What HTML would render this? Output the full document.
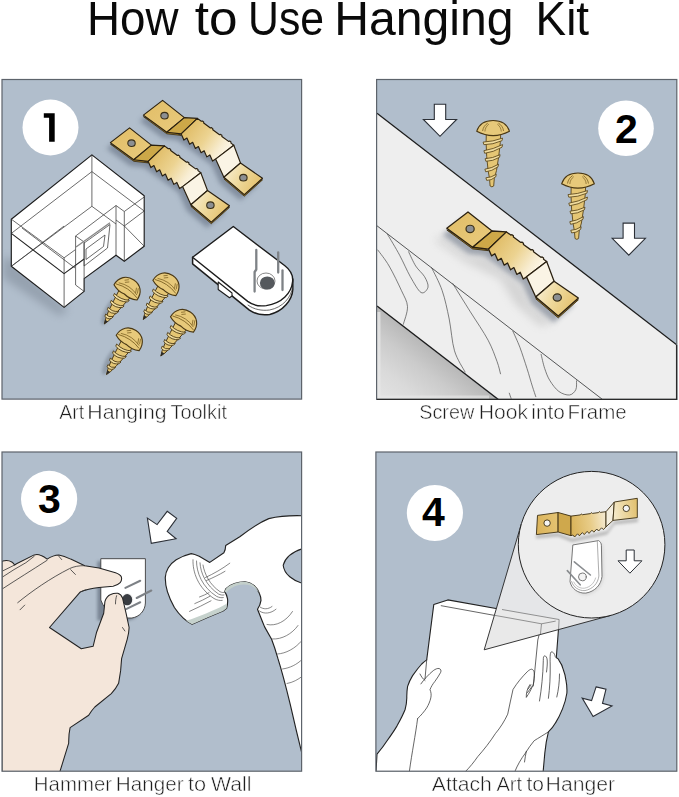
<!DOCTYPE html>
<html><head><meta charset="utf-8"><title>How to Use Hanging Kit</title>
<style>
html,body{margin:0;padding:0;background:#fff;}
body{width:679px;height:797px;overflow:hidden;font-family:"Liberation Sans",sans-serif;}
svg{display:block;}
text{font-family:"Liberation Sans",sans-serif;}
</style></head><body>
<svg width="679" height="797" viewBox="0 0 679 797">
<defs>
  <filter id="blur3" x="-20%" y="-20%" width="140%" height="140%"><feGaussianBlur stdDeviation="2.5"/></filter>
  <filter id="blur2" x="-30%" y="-30%" width="160%" height="160%"><feGaussianBlur stdDeviation="1.6"/></filter>
  <filter id="blur5" x="-30%" y="-30%" width="160%" height="160%"><feGaussianBlur stdDeviation="4"/></filter>
  <linearGradient id="gPlateL" x1="0" y1="0" x2="1" y2="1">
    <stop offset="0" stop-color="#e1bd66"/><stop offset="1" stop-color="#e9cb7e"/>
  </linearGradient>
  <linearGradient id="gMid" gradientUnits="userSpaceOnUse" x1="25" y1="25" x2="68" y2="55">
    <stop offset="0" stop-color="#e0bc66"/><stop offset="0.42" stop-color="#ecd391"/><stop offset="0.75" stop-color="#f8edd2"/><stop offset="1" stop-color="#fffbf1"/>
  </linearGradient>
  <linearGradient id="gPlateR" gradientUnits="userSpaceOnUse" x1="64" y1="68" x2="98" y2="86">
    <stop offset="0" stop-color="#f8edcf"/><stop offset="0.45" stop-color="#eed89a"/><stop offset="1" stop-color="#e3bf6a"/>
  </linearGradient>
  <linearGradient id="gShade2" gradientUnits="userSpaceOnUse" x1="437" y1="352.25" x2="392.5" y2="410">
    <stop offset="0" stop-color="#b8b8b8"/><stop offset="0.3" stop-color="#cbcbcb"/><stop offset="0.65" stop-color="#dadada"/><stop offset="1" stop-color="#e3e3e3"/>
  </linearGradient>
  <clipPath id="c1"><rect x="2" y="79.5" width="299.6" height="319.6"/></clipPath>
  <clipPath id="c2"><rect x="376.6" y="79.5" width="300.2" height="319.9"/></clipPath>
  <clipPath id="c3"><rect x="2" y="452" width="299.6" height="319.2"/></clipPath>
  <clipPath id="c4"><rect x="375.9" y="452" width="300.9" height="319.2"/></clipPath>
  
<g id="hanger">
  <!-- shadow -->
  <polygon points="0.0,0.0 -19.2,14.7 4.2,31.9 18.6,33.5 53.0,58.7 61.3,76.9 81.7,94.2 99.9,77.9 77.9,62.6 71.2,44.8 34.8,18.0 21.8,17.2" fill="#556173" opacity="0.5" filter="url(#blur3)" transform="translate(-4,6)"/>
  <!-- thickness -->
  <polygon points="-19.2,14.7 4.2,31.9 18.6,33.5" fill="#a27f2c" stroke="#3a2c10" stroke-width="0.8" transform="translate(0,1.5)"/>
  <polygon points="61.3,76.9 81.7,94.2 99.9,77.9" fill="#a27f2c" stroke="#3a2c10" stroke-width="0.8" transform="translate(0,1.6)"/>
  <!-- left plate -->
  <polygon points="0.0,0.0 -19.2,14.7 4.2,31.9 21.8,17.2" fill="url(#gPlateL)" stroke="#2a2010" stroke-width="1.15" stroke-linejoin="round"/>
  <!-- step down -->
  <polygon points="21.8,17.2 4.2,31.9 18.6,33.5 34.8,18.0" fill="#cda848" stroke="#2a2010" stroke-width="1.15" stroke-linejoin="round"/>
  <!-- middle -->
  <polygon points="34.8,18.0 38.71,20.88 39.79,20.56 41.07,21.5 41.08,22.62 47.81,27.58 48.89,27.26 50.17,28.2 50.18,29.32 56.91,34.28 57.99,33.96 59.27,34.9 59.28,36.02 66.01,40.98 67.09,40.66 68.37,41.6 68.38,42.72 71.2,44.8 53.0,58.7 49.96,60.69 47.27,54.5 44.23,56.49 41.53,50.3 38.49,52.29 35.8,46.1 32.76,48.09 30.07,41.9 27.03,43.89 24.33,37.7 21.29,39.69 18.6,33.5" fill="url(#gMid)" stroke="#2a2010" stroke-width="1.15" stroke-linejoin="round"/>
  <!-- step up -->
  <polygon points="71.2,44.8 53.0,58.7 61.3,76.9 77.9,62.6" fill="#faf4e5" stroke="#2a2010" stroke-width="1.15" stroke-linejoin="round"/>
  <!-- right plate -->
  <polygon points="77.9,62.6 61.3,76.9 81.7,94.2 99.9,77.9" fill="url(#gPlateR)" stroke="#2a2010" stroke-width="1.15" stroke-linejoin="round"/>
  <!-- holes -->
  <ellipse cx="1.9" cy="15.3" rx="3.7" ry="3.3" fill="#8c8f92" stroke="#3a3018" stroke-width="1.1"/>
  <ellipse cx="80.8" cy="77.3" rx="3.7" ry="3.3" fill="#8c8f92" stroke="#3a3018" stroke-width="1.1"/>
</g>
  
<g id="screw">
  <path d="M -6.8,13.5 L 7.6,13.5 L 7.2,22 L 5.6,36 L 3.4,50 L 1.2,58 L 0.6,65.5 Q -1.2,67.2 -3.0,65.5 L -3.6,58 L -5.0,50 L -6.4,36 L -7.0,22 Z" fill="#e5c674" stroke="#5a4518" stroke-width="0.9" stroke-linejoin="round"/>
  <path d="M -10.00,21.60 Q -0.25,21.20 9.50,17.60 L 8.90,20.20 Q -0.25,24.20 -9.20,24.20 Z" fill="#f0dc9e" stroke="#5a4518" stroke-width="0.85" stroke-linejoin="round"/><path d="M -9.20,30.20 Q 0.15,28.75 9.50,24.10 L 8.90,26.70 Q 0.15,31.75 -8.40,32.80 Z" fill="#f0dc9e" stroke="#5a4518" stroke-width="0.85" stroke-linejoin="round"/><path d="M -8.00,38.20 Q -0.50,37.80 7.00,34.20 L 6.40,36.80 Q -0.50,40.80 -7.20,40.80 Z" fill="#f0dc9e" stroke="#5a4518" stroke-width="0.85" stroke-linejoin="round"/><path d="M -8.20,48.70 Q -1.35,47.80 5.50,43.70 L 4.90,46.30 Q -1.35,50.80 -7.40,51.30 Z" fill="#f0dc9e" stroke="#5a4518" stroke-width="0.85" stroke-linejoin="round"/><path d="M -7.20,57.30 Q -2.00,57.15 3.20,53.80 L 2.60,56.40 Q -2.00,60.15 -6.40,59.90 Z" fill="#f0dc9e" stroke="#5a4518" stroke-width="0.85" stroke-linejoin="round"/>
  <path d="M -16.4,10.8 C -14,3.5 -8,0 0,0 C 8,0 14,3.5 16.4,10.8 Q 0,19.5 -16.4,10.8 Z" fill="#e7c97a" stroke="#4a3814" stroke-width="1.1" stroke-linejoin="round"/>
  <path d="M -10.5,10.5 C -10,7 -8,4.2 -5.3,2.6" fill="none" stroke="#7a5f22" stroke-width="0.8"/>
  <path d="M -8.2,11 C -8,8 -6.6,5.4 -4.2,3.6" fill="none" stroke="#7a5f22" stroke-width="0.7"/>
  <path d="M 10.5,10.5 C 10,7 8,4.2 5.3,2.6" fill="none" stroke="#7a5f22" stroke-width="0.8"/>
  <path d="M 8.2,11 C 8,8 6.6,5.4 4.2,3.6" fill="none" stroke="#7a5f22" stroke-width="0.7"/>
</g>
<g id="screwB">
  <path d="M -6.6,16 L 6.8,16 L 5.2,28 L 3.4,40 L 1.8,48 L 0,53 L -1.8,48 L -3.6,40 L -5.2,28 Z" fill="#e5c674" stroke="#4a3814" stroke-width="0.9" stroke-linejoin="round"/>
  <path d="M -8.6,22 Q 0,24 7.6,19.5 L 7.2,21.8 Q 0,26.5 -8,24.4 Z" fill="#f0dc9e" stroke="#4a3814" stroke-width="0.8" stroke-linejoin="round"/>
  <path d="M -7.4,29.5 Q 0,31.5 6.4,27 L 6,29.3 Q 0,34 -6.8,31.9 Z" fill="#f0dc9e" stroke="#4a3814" stroke-width="0.8" stroke-linejoin="round"/>
  <path d="M -6.0,37 Q 0,39 5,34.5 L 4.6,36.8 Q 0,41.5 -5.4,39.4 Z" fill="#f0dc9e" stroke="#4a3814" stroke-width="0.8" stroke-linejoin="round"/>
  <path d="M -4.4,44 Q 0,45.5 3.4,42 L 3.0,44.2 Q 0,48 -3.8,46.2 Z" fill="#f0dc9e" stroke="#4a3814" stroke-width="0.8" stroke-linejoin="round"/>
  <path d="M -1.6,49 L 0,53.4 L 1.6,49 Z" fill="#2a2a2a"/>
  <path d="M -13.8,15 C -14.2,6 -8.5,0 0,0 C 8.5,0 14.2,6 13.8,15 Q 7,18.4 0,17 Q -7,18.4 -13.8,15 Z" fill="#e7c97a" stroke="#4a3814" stroke-width="1.15" stroke-linejoin="round"/>
  <path d="M -12.6,13.2 Q 0,8.8 12.6,13.2" fill="none" stroke="#7a5f22" stroke-width="0.8"/>
  <path d="M -11,10.8 Q 0,6.2 11,10.8" fill="none" stroke="#7a5f22" stroke-width="0.7"/>
  <path d="M -7.5,5.4 L -4.2,2.6 M -6,7 L -2.6,4.2" fill="none" stroke="#7a5f22" stroke-width="0.7"/>
  <path d="M 8.4,4.4 L 10.6,9.4 M 6.6,5 L 8.8,10" fill="none" stroke="#7a5f22" stroke-width="0.7"/>
</g>
  <g id="arrowDown">
    <polygon points="-5.7,0 5.7,0 5.7,15.2 16.6,15.2 0,32 -16.6,15.2 -5.7,15.2" fill="#fff" stroke="#2b2f36" stroke-width="1.1" stroke-linejoin="miter"/>
  </g>
</defs>

<rect width="679" height="797" fill="#fff"/>

<!-- TITLE -->
<g id="title" font-size="49" fill="#0a0a0a" opacity="0.999"><text transform="translate(87.06,34.9) scale(0.934,1)">How</text><text transform="translate(194.75,34.9) scale(1.0474,1)">to</text><text transform="translate(248.01,34.9) scale(0.8728,1)">Use</text><text transform="translate(334.27,34.9) scale(0.9823,1)">Hanging</text><text transform="translate(535.56,34.9) scale(0.9358,1)">Kit</text></g>

<!-- ================= PANEL 1 ================= -->
<rect x="2" y="79.5" width="299.6" height="319.6" fill="#b1becc"/>
<g clip-path="url(#c1)">
  <circle cx="50.5" cy="127.5" r="28" fill="#fff"/>
  <polygon points="43.8,113.2 54.7,113.2 54.7,141.8 49.1,141.8 49.1,117.8 43.8,117.8" fill="#000"/>

  <!-- hangers -->
  <use href="#hanger" x="0" y="0" transform="translate(162.6,100.4)"/>
  <use href="#hanger" x="0" y="0" transform="translate(129.6,127.9)"/>

  <!-- box shadow -->
  <polygon points="11,258 3,258 3,278 60,316 68,310" fill="#6f7a88" opacity="0.42" filter="url(#blur5)"/>
  <!-- box -->
  <g stroke-linejoin="round">
    <polygon points="91.9,154.9 144.2,195.7 144.2,246.2 124.3,261.3 116,255.2 84.1,278.6 84.1,291.4 64.1,307.4 11.3,266.3 11.3,219.2" fill="#fff" stroke="#1c1c1c" stroke-width="1.15"/>
    <g fill="none" stroke="#3a3a3a" stroke-width="0.75">
      <!-- lid lower edge -->
      <polyline points="11.3,233.4 64.1,273.6 84.1,259" stroke="#222" stroke-width="1.1"/>
      <polyline points="11.3,219.2 64.1,257.8 75.6,249.5"/>
      <line x1="64.1" y1="257.8" x2="64.1" y2="307.4"/>
      <!-- back edges seen through -->
      <line x1="91.9" y1="154.9" x2="91.9" y2="206.3"/>
      <polyline points="11.3,233.4 91.9,171.6 144.2,211"/>
      <polyline points="11.3,266.3 91.9,206.3 116,224"/>
      <!-- notch geometry -->
      <polyline points="75.6,249.5 75.6,236 116,205.5 116,255.2"/>
      <polyline points="116,205.5 124.3,211.5 144.2,197"/>
      <line x1="124.3" y1="211.5" x2="124.3" y2="261.3"/>
      <polyline points="75.6,236 84.1,242 84.1,278.6"/>
      <polyline points="116,220 124.3,226 144.2,211"/>
      <line x1="75.6" y1="249.5" x2="75.6" y2="285"/>
      <polyline points="75.6,285 84.1,291.4"/>
      <line x1="22" y1="228" x2="75" y2="268"/>
      <line x1="124.3" y1="226" x2="144.2" y2="246.2"/>
      <line x1="11.3" y1="266.3" x2="64.1" y2="226"/>
      <!-- slot plate -->
      <polygon points="84.1,243 110,224.5 107.5,248 84.1,266"/>
      <polygon points="86,249 105,235 103.5,246.5 86,259.5"/>
      <line x1="76" y1="247" x2="110" y2="222.8" stroke="#888" stroke-width="1.4"/>
    </g>
  </g>

  <!-- nail hanger (white) -->
  <g stroke-linejoin="round">
    <path d="M 192.6,257.3 L 192.6,263.8 L 249.4,310.2 C 256,314.5 263,315.5 269.7,314.4 C 283,311.5 292.2,300 292.8,289.5 L 292.8,279 Z" fill="#ffffff" stroke="#1c1c1c" stroke-width="1.5"/>
    <path d="M 218.2,282 L 218.2,289.5 L 229.5,297.8 L 232,296 L 232,293 Z" fill="#fff" stroke="#1c1c1c" stroke-width="1.1"/>
    <path d="M 247.7,301.4 C 254,306 262,307.5 269.5,306.5 C 283,304 291.5,293.5 292.6,283" fill="none" stroke="#444" stroke-width="0.8" transform="translate(0,3.5)"/>
    <path d="M 233.3,226.5 L 284.9,265.8 C 291,270.5 293.3,275 292.6,281.5 C 291.5,293 282,303.2 266.3,305.6 C 258.5,306.6 252.5,305 247.7,301.4 L 192.6,257.3 Z" fill="#ffffff" stroke="#1c1c1c" stroke-width="1.4"/>
    <ellipse cx="266" cy="281" rx="9" ry="8" fill="#fff" stroke="#555" stroke-width="0.7"/>
    <ellipse cx="267.3" cy="283" rx="7.4" ry="6.6" fill="#55595d"/>
    <g stroke="#7e8286" stroke-width="2.3" fill="none" stroke-linecap="round">
      <polyline points="256.3,250 256.3,269.5 254.6,272 254.6,291.5"/>
      <line x1="278.2" y1="252.5" x2="278.2" y2="272.5"/>
      <line x1="282.5" y1="270.5" x2="282.5" y2="290"/>
    </g>
  </g>

  <!-- screws -->
  <g>
    <ellipse cx="108" cy="312" rx="4" ry="14" fill="#6f7a88" opacity="0.5" filter="url(#blur2)" transform="rotate(25 108 312)"/>
    <ellipse cx="109" cy="362" rx="4" ry="14" fill="#6f7a88" opacity="0.5" filter="url(#blur2)" transform="rotate(25 109 362)"/>
    <use href="#screwB" transform="translate(133.8,279.9) rotate(33.8)"/>
    <use href="#screwB" transform="translate(172.7,275.5) rotate(33.8)"/>
    <use href="#screwB" transform="translate(136.0,330.5) rotate(33.8)"/>
    <use href="#screwB" transform="translate(190.3,312.0) rotate(33.8)"/>
  </g>
</g>
<rect x="2" y="79.5" width="299.6" height="319.6" fill="none" stroke="#5d636b" stroke-width="1.2"/>
<g id="cap1" font-size="20.2" fill="#1e1e1e" stroke="#fff" stroke-width="0.5" opacity="0.999"><text transform="translate(59.2,418.7) scale(0.967,1)">Art</text><text transform="translate(87.36,418.7) scale(1.0533,1)">Hanging</text><text transform="translate(170.41,418.7) scale(0.9894,1)">Toolkit</text></g>

<!-- ================= PANEL 2 ================= -->
<rect x="376.6" y="79.5" width="300.2" height="319.9" fill="#b1becc"/>
<g clip-path="url(#c2)">
  <!-- frame face -->
  <polygon points="377,113.3 677,345 677,400 603.2,400 377,225.8" fill="#eeeeee"/>
  <!-- wood side -->
  <polygon points="377,225.8 603.2,400 499,400 377,306" fill="#eeeeee"/>
  <!-- shadow tri -->
  <polygon points="377,306 497,399.5 377,399.5" fill="url(#gShade2)"/>
  <rect x="377" y="312" width="3.5" height="88" fill="#e8e8e8" opacity="0.75"/>
  <rect x="377" y="395.5" width="112" height="4" fill="#e8e8e8" opacity="0.6"/>
  <line x1="377" y1="113.3" x2="677" y2="345" stroke="#1c1c1c" stroke-width="1.3"/>
  <line x1="377" y1="225.8" x2="603.2" y2="400" stroke="#333" stroke-width="0.8"/>
  <line x1="377" y1="306" x2="499" y2="400" stroke="#1c1c1c" stroke-width="1.4"/>
  <!-- wood grain -->
  <g fill="none" stroke="#4a4a4a" stroke-width="0.7" stroke-linecap="round">
    <path d="M 377.8,250.0 C 379.7,252.7 385.2,259.2 389.1,266.0 C 393.1,272.8 398.4,283.9 401.5,290.7 C 404.6,297.5 407.2,301.0 407.5,306.6 C 407.8,312.2 404.0,321.4 403.3,324.3 "/>
    <path d="M 387.4,234.1 C 389.4,237.6 395.9,248.2 399.7,255.3 C 403.5,262.4 406.8,270.4 410.3,276.6 C 413.9,282.8 418.1,290.7 421.0,292.5 C 423.9,294.3 427.4,289.8 428.0,287.2 C 428.6,284.6 426.6,280.1 424.5,276.6 C 422.4,273.1 418.3,270.1 415.7,266.0 C 413.1,261.9 409.8,254.2 408.6,251.8 "/>
    <path d="M 431.6,267.7 C 433.4,271.5 439.3,282.1 442.2,290.7 C 445.1,299.2 447.1,309.0 449.2,319.0 C 451.2,329.0 451.9,342.0 454.5,350.8 C 457.1,359.6 463.3,368.5 465.1,372.0 "/>
    <path d="M 452.8,283.6 C 455.7,288.3 464.5,302.5 470.4,311.9 C 476.3,321.3 483.7,331.9 488.1,340.2 C 492.5,348.4 494.9,355.8 497.0,361.4 C 499.1,367.0 499.9,371.7 500.5,373.8 "/>
    <path d="M 512.9,331.3 C 514.1,334.0 517.5,341.1 519.9,347.3 C 522.2,353.5 524.9,362.0 527.0,368.5 C 529.1,375.0 530.8,381.4 532.3,386.1 C 533.8,390.8 535.2,394.9 535.8,396.7 "/>
    <path d="M 541.1,354.3 C 541.7,356.7 543.2,364.1 544.7,368.5 C 546.2,372.9 547.6,377.0 550.0,380.8 C 552.4,384.6 555.6,389.0 558.8,391.4 C 562.0,393.8 566.6,395.3 569.4,395.0 C 572.2,394.7 574.6,392.1 575.8,389.7 C 577.0,387.3 576.4,382.3 576.5,380.8 "/>
    <path d="M 509.3,393.2 C 509.6,394.1 510.8,397.6 511.1,398.5 "/>
  </g>
  <!-- hanger soft shadow on frame -->
  <polygon points="447,232 474,252 490,252 527,280 536,301 559,319 545,322 520,300 505,275 470,258 440,236" fill="#9a9a9a" opacity="0.3" filter="url(#blur5)" transform="translate(-5,4)"/>
  <!-- hanger -->
  <use href="#hanger" transform="translate(468,212) scale(1.105)"/>
  <!-- screws -->
  <use href="#screw" transform="translate(493.1,120.5)"/>
  <use href="#screw" transform="translate(578.0,173.0)"/>
  <!-- arrows -->
  <use href="#arrowDown" transform="translate(440,104.3)"/>
  <use href="#arrowDown" transform="translate(628.8,223.1)"/>
  <circle cx="626" cy="128.2" r="27.8" fill="#fff"/>
  <text x="626.3" y="142.8" font-size="41" font-weight="bold" text-anchor="middle" fill="#000">2</text>
</g>
<rect x="376.6" y="79.5" width="300.2" height="319.9" fill="none" stroke="#5d636b" stroke-width="1.2"/>
<polyline points="676.6,345 676.6,399.3 377,399.3" fill="none" stroke="#2a2a2a" stroke-width="1.3"/>
<g id="cap2" font-size="20.2" fill="#1e1e1e" stroke="#fff" stroke-width="0.5" opacity="0.999"><text transform="translate(419.22,418.7) scale(0.981,1)">Screw</text><text transform="translate(478.67,418.7) scale(1.0475,1)">Hook</text><text transform="translate(531.31,418.7) scale(1.0328,1)">into</text><text transform="translate(567.42,418.7) scale(1.0152,1)">Frame</text></g>

<!-- ================= PANEL 3 ================= -->
<rect x="2" y="452" width="299.6" height="319.2" fill="#b1becc"/>
<g clip-path="url(#c3)">
  <circle cx="49.1" cy="498.9" r="28.1" fill="#fff"/>
  <text x="49.4" y="512.9" font-size="41" font-weight="bold" text-anchor="middle" fill="#000">3</text>

  <!-- arrow -->
  <polygon points="167.2,511.3 176.7,518.4 167.2,531.4 176.1,538.7 151.3,543.3 147.4,518.1 157.1,524.6" fill="#fff" stroke="#2b2f36" stroke-width="1.1"/>

  <!-- hanger on wall -->
  <path d="M 100.8,558.7 L 145.4,558.7 L 145.4,603 C 145,611 139.5,616.8 131.9,618 L 100.8,618 Z" fill="#4d5867" opacity="0.55" filter="url(#blur2)" transform="translate(-3.5,2.5)"/>
  <path d="M 100.8,558.7 L 145.4,558.7 L 145.4,603 C 145,611 139.5,616.8 131.9,618 C 117,619 105,612 100.8,600 Z" fill="#fff" stroke="#3c3c3c" stroke-width="0.9"/>
  <g stroke="#7d8186" stroke-width="2.1" stroke-linecap="round">
    <line x1="125.4" y1="587.9" x2="140.2" y2="580.8"/>
    <line x1="136.7" y1="598" x2="151.3" y2="590.5"/>
    <line x1="126.1" y1="609.1" x2="140.2" y2="602.3"/>
  </g>
  <ellipse cx="127.2" cy="599.7" rx="6.2" ry="6.6" fill="#f2f2f2"/>
  <ellipse cx="127.2" cy="599.7" rx="5" ry="5.6" fill="#3a3d42"/>

  <!-- hand -->
  <path d="M 2,561.5 L 2.8,561 C 6,560.2 9.5,560.6 11.8,562 C 13,562.8 14,563.8 14.6,565 L 16.5,563.8 L 34.2,554.9 C 36.5,554.3 39,554.5 41.2,555.6 C 43.5,556.5 45.5,557.8 47.1,559.1 C 51,556.5 55,555 58.9,554.9 C 63,555.5 67,557.2 70.7,559.1 L 84.8,565.7 L 99,568.1 L 115.5,572.8 C 118.5,573.8 120.5,575 121.3,576.8 C 122,579 121.5,581 120.2,582.7 C 118.5,584.5 116,585.7 113.1,586.2 L 99,587.4 C 92,588 85.5,589.5 80.1,592.1 L 49.5,627.5 L 81.3,648.7 L 93.1,646.3 L 96.6,632.2 L 103.7,613.3 L 104.9,601.6 C 106,598 108,595.5 110.7,594.5 C 113,593.4 115.5,593 117.8,593.3 C 120,594 121.6,595.6 122.5,598 L 126.1,613.3 L 129.1,627.5 C 129,631.5 128.3,635.5 127.2,639.3 L 121.6,658.6 L 120.6,670.9 L 118.6,683.3 C 116.8,687 114.3,690.5 111.3,693.6 L 94.8,707 C 92.5,709.5 90.5,712.3 88.7,715.3 L 70.1,727.6 C 69,732.5 68.6,738 68.7,743.1 L 59.8,772 L 2,772 Z" fill="#f4e6da" stroke="#222" stroke-width="1.05" stroke-linejoin="round"/>
  <g fill="none" stroke="#333" stroke-width="0.8" stroke-linecap="round">
    <path d="M 2.8,570.9 L 14.6,565"/>
    <path d="M 2.8,576.8 C 10,572 18,567 25.9,562.7 L 34.2,556.3"/>
    <path d="M 2.8,588.6 C 16,580 32,570 47.1,560.3"/>
    <path d="M 17.7,602.7 C 32,591 50,578.5 69.5,568.6 C 74,566.5 79,565.5 84.8,565.7"/>
    <path d="M 20,609.8 L 24.7,605.1"/>
    <path d="M 58.9,556.3 L 61.7,559.6"/>
    <path d="M 70.7,569.7 L 75.4,574.5"/>
    <path d="M 116.6,595.7 C 115.8,598.5 115.5,601 115.5,603.9" />
    <path d="M 122.5,627.5 L 124.9,631"/>
    <path d="M 80.1,592.1 C 82,591 84,590.2 86,589.8"/>
  </g>

  <!-- hammer -->
  <path d="M 303,515.8 C 291,515.4 280,516 268.8,518.6 C 258,523 248.5,530 239.8,536.8 L 225.7,545.6 C 225.6,548.5 225,551 223.9,552.7 L 209.8,562.4 L 199.2,556.2 C 196.5,555 194,554 191.2,553.6 C 186,554.8 180.8,557 176.2,559.7 C 173,561.8 170.2,564.5 168.3,567.7 C 166.5,570.7 165.5,574 165.3,577.4 C 165.2,582.3 166,587 167.4,591.6 C 169.2,597.3 171.6,602.6 174.4,607.5 C 177,611.5 180,615 183.3,618.1 C 186,620.6 189,622.8 192.1,624.3 L 208,617.2 L 223,611 L 226.6,608.3 C 227.6,605 227.9,601.8 227.5,598.6 C 227,596 226,593.6 224.8,591.6 L 225.7,588.9 C 228.3,586.4 231.2,584.6 234.5,583.6 C 238,582.3 241.5,581.7 245.1,581.8 C 248.5,582.3 251.5,583.5 254,585.4 C 256.5,587.5 258.2,590.2 259.3,593.3 C 260.4,595.6 261,598 261,600.4 C 260.6,603.6 259.3,606.5 257.5,609.2 C 259.8,615 262.2,621 264.6,626.9 L 271.6,639.3 C 274,645.5 276,651.8 277.8,658.2 C 282.5,673 286.5,689 290.3,704.7 C 294,721 298,738 303,758 Z" fill="#fff" stroke="#222" stroke-width="1.15" stroke-linejoin="round"/>
  <!-- claw opening -->
  <path d="M 304,548.3 C 294,551 285.5,557 283.2,565.2 C 284,574 293,581 304,583.8 Z" fill="#b1becc" stroke="#222" stroke-width="1.1"/>
  <!-- hammer shading -->
  <path d="M 224.8,591.6 L 225.7,588.9 C 228.3,586.4 231.2,584.6 234.5,583.6 C 238,582.3 241.5,581.7 245.1,581.8 C 248.5,582.3 251.5,583.5 254,585.4 C 256.5,587.5 258.2,590.2 259.3,593.3 C 257,589.5 254,587 250.5,585.6 C 246.5,584.3 242,584.3 238,585.3 C 233.5,586.5 229.5,588.8 226,592.5 Z" fill="#c3cfca" stroke="none"/>
  <path d="M 186,620.6 C 188,622.2 190,623.4 192.1,624.3 L 208,617.2 L 223,611 L 226.6,608.3 L 226.6,603.8 C 222,606.5 216.5,609 211,611.2 C 204.5,614 197.5,617 190.5,619.4 Z" fill="#c6d2cd"/>
  <g fill="none" stroke="#555" stroke-width="0.7" stroke-linecap="round">
    <path d="M 193,559.7 C 192.5,572 198,588 214,598.5 C 217,600.2 220,600.8 222.2,600.4"/>
    <path d="M 196.5,561 C 196.5,572.5 202,587 216.5,596.3 C 219,597.6 221.5,598 223.3,597.6"/>
    <path d="M 200,562.8 C 200.5,573 206,585.5 218.5,594 C 220.5,595 222.5,595.3 224,595"/>
    <path d="M 203,565 C 204.5,574 209.5,584.5 220,591.7 C 222,592.6 223.5,592.7 224.6,592.3"/>
    <path d="M 205.5,577.5 C 214,573.5 222,569 229.8,563.2"/>
    <path d="M 206.5,580.5 C 213,577.8 219,574.8 225,571.3"/>
    <path d="M 189.5,611.4 C 197,608 204,604.6 211,600.8"/>
    <path d="M 194.8,603.6 C 200,601.5 205,599 210,596.2"/>
    <path d="M 199.5,597 C 203,595.7 206,594.3 209,592.7"/>
    <path d="M 260,607 C 263.5,609.5 268,609.5 272,606.5"/>
    <path d="M 259.5,611 C 264,614.5 271,613.5 276,609.2"/>
    <path d="M 267,624.5 C 276,626.5 286,621.5 292.5,611.5"/>
    <path d="M 272.5,639 C 282,639.5 292,634 298,625.5"/>
    <path d="M 277.5,654 C 286,653.5 295,648.5 301,641.5"/>
    <path d="M 282.5,669 C 290,668 297,664.5 302,659.5"/>
    <path d="M 287,683.5 C 293,682.5 298,679.5 302,676.5"/>
  </g>
</g>
<rect x="2" y="452" width="299.6" height="319.2" fill="none" stroke="#5d636b" stroke-width="1.2"/>
<g id="cap3" font-size="20.2" fill="#1e1e1e" stroke="#fff" stroke-width="0.5" opacity="0.999"><text transform="translate(33.83,791.4) scale(1.01,1)">Hammer</text><text transform="translate(115.81,791.4) scale(1.0241,1)">Hanger</text><text transform="translate(188.03,791.4) scale(1.0794,1)">to</text><text transform="translate(211.04,791.4) scale(1.0514,1)">Wall</text></g>

<!-- ================= PANEL 4 ================= -->
<rect x="375.9" y="452" width="300.9" height="319.2" fill="#b1becc"/>
<g clip-path="url(#c4)">
  <circle cx="434.9" cy="513" r="28.1" fill="#fff"/>
  <text x="433.4" y="526.3" font-size="41" font-weight="bold" text-anchor="middle" fill="#000">4</text>

  <!-- white silhouette: canvas + hands + arms -->
  <path d="M 433.8,604.4 L 447.8,599.9 L 559.2,619.8 L 556.3,657.7 C 557.5,658 558.5,659 559,660.3 C 561,663 562.6,666.5 563.4,670 C 564.8,673.5 565.6,677 566,680.7 C 566.8,684.5 567.1,689 566.9,693 C 566,699 564.5,704 562.5,708.9 C 560.5,714 558,719 555.4,723.1 C 553.5,726.5 551,729.5 548.4,731.9 C 546.6,739 545.5,746 544.8,753.1 L 543.1,772 L 376,772 L 377,754.2 C 380.5,750 384,745.5 386.9,741 C 390.5,736 394,731 396.9,726.1 C 400,720.5 403,715 405.1,709.5 C 406.2,705.5 406.7,701.5 406.8,697.9 C 406.7,694 407,690 407.6,686.4 C 408.8,682.5 410.5,679 412.6,675.6 C 415.5,671.5 418.5,667.5 421.7,664 C 423.5,662.3 425.2,661 426.7,659.9 Z" fill="#fff" stroke="#222" stroke-width="1.1" stroke-linejoin="round"/>
  <g fill="none" stroke="#333" stroke-width="0.75" stroke-linecap="round" stroke-linejoin="round">
    <!-- canvas edges -->
    <polyline points="441.2,605.7 541.8,624 559.2,619.8"/>
    <path d="M 541.8,624 L 537.8,640 L 533.3,686"/>
    <path d="M 426.7,659.9 L 425,678.9"/>
    <!-- left hand -->
    <path d="M 420,674 C 421.5,677 423,679 425,680.5"/>
    <path d="M 420.9,683.9 C 424,679.5 428.5,674.5 433.3,670.6 C 435.5,669 437.5,668.2 439.1,668.5 C 441,669.2 441.3,670.6 440.7,672.3 C 439,675.5 437,678.5 434.9,681.4 C 432.8,684 431,686.8 430,689.7 C 431.2,692.3 431.4,695 430.8,697.9 C 430,701.5 428.5,704.8 426.7,707.9 C 424,711.8 421,715.4 417.6,718.6"/>
    <path d="M 417.6,718.6 C 415.5,735 412,752 409.3,772"/>
    <!-- right hand -->
    <path d="M 465.3,771.7 C 470,767 474,762 477.7,756.7 C 484,749.5 490,742 495.3,733.7 C 500.5,727.5 504.5,721 507.7,714.2 C 509.5,706 511,698 513,689.5 C 517,683 522,677 527.2,671.8 C 528.8,670.2 530.2,669.4 531.6,669.2 C 533,669.5 534,670.8 534.2,672.7 C 534.5,676.5 534.2,680.5 533.3,684.2 C 531.5,689 529,693.5 526.3,697.4 C 526,693 527.5,688 530,684.5"/>
    <path d="M 528,689 L 531,685 M 527.5,692.5 L 532,686.5"/>
    <path d="M 539.5,701 C 541.5,689 543,675 543.3,660.5 C 543.3,657.5 543.5,656.3 544.4,655.9 C 546,655.7 547,657.5 547.2,660 C 547.5,664 547,668 546.5,672"/>
    <path d="M 548.4,698.3 C 549.8,688 550.4,676 550.2,664 C 550,658 550,653.5 551,652 C 553,651.5 554.5,653.5 555.2,656.5 L 556.3,657.7"/>
    <path d="M 556.8,697 C 558.5,690 559.5,682 559.5,674"/>
    <path d="M 548.4,731.9 C 543.5,735 538.5,738 534.2,740.7 C 531,744.5 528,748.8 525.4,753.1 C 521,759 517.5,765 514.8,771.7"/>
    <path d="M 526.3,751.3 C 525.6,755 525,758.5 524.5,762"/>
  </g>

  <!-- cone -->
  <polygon points="484.2,649.8 521.3,524 591.6,544.7 611.1,615.3" fill="#e5e6e8"/>
  <polygon points="484.2,649.8 496.4,608.6 559.2,619.8 558.3,629.6" fill="#e9e9e9"/>
  <line x1="484.2" y1="649.8" x2="521.3" y2="524" stroke="#222" stroke-width="0.9"/>
  <line x1="484.2" y1="649.8" x2="611.1" y2="615.3" stroke="#222" stroke-width="0.9"/>
  <!-- canvas lines visible through cone, faint -->
  <g fill="none" stroke="#555" stroke-width="0.7" opacity="0.85">
    <polyline points="502,609.5 559.1,619.5 558.6,629"/>
    <polyline points="494.5,615.3 541.5,623.8 555.7,621.1"/>
    <line x1="541.5" y1="623.8" x2="540.4" y2="634.5"/>
  </g>
  <!-- zoom circle -->
  <circle cx="591.6" cy="544.7" r="73.3" fill="#ededed" stroke="#222" stroke-width="1"/>
  <!-- front-view hanger -->
  <g stroke-linejoin="round">
    <path d="M 536,535 L 558,533 L 572,538.5 L 607,531 L 614.5,521 L 638,518.5 L 638,522 L 614.5,524.5 L 607,534.5 L 572,542 L 558,536.5 L 536,538.5 Z" fill="#777" opacity="0.45" filter="url(#blur2)"/>
    <polygon points="537.5,515.4 558.1,512.5 558.1,532 536.4,534.6" fill="url(#gPlateL4)" stroke="#3a2c10" stroke-width="0.9"/>
    <polygon points="558.1,512.5 571,516.1 571,535.7 558.1,532" fill="#cfa84c" stroke="#3a2c10" stroke-width="0.9"/>
    <path d="M 571,516.1 L 580.5,514.9 L 581.3,513.9 L 582.4,514.7 L 590.5,513.6 L 591.3,512.6 L 592.4,513.4 L 598.5,512.6 L 599.3,511.6 L 600.4,512.4 L 606,511.7 L 606,526.8 L 603.4,529.6 L 601.6,527.8 L 598.6,531 L 596.8,529 L 593.8,532.2 L 592,530.2 L 589,533.4 L 587.2,531.4 L 584.2,534.6 L 582.4,532.6 L 579.4,535.8 L 577.6,533.8 L 574.6,537 L 572.8,535 L 571,535.7 Z" fill="url(#gMid4)" stroke="#3a2c10" stroke-width="0.9"/>
    <polygon points="606,511.7 614.3,502 613,520.4 606,526.8" fill="#f5efdf" stroke="#3a2c10" stroke-width="0.9"/>
    <polygon points="614.3,502 637.3,498.3 637.3,517.6 613,520.4" fill="url(#gPlateR4)" stroke="#3a2c10" stroke-width="0.9"/>
    <circle cx="547.1" cy="523.1" r="3.2" fill="#f4f4f4" stroke="#3a2c10" stroke-width="0.9"/>
    <circle cx="626.3" cy="508.4" r="3.2" fill="#f4f4f4" stroke="#3a2c10" stroke-width="0.9"/>
  </g>
  <!-- small nail hanger -->
  <g stroke-linejoin="round" stroke-linecap="round">
    <path d="M 575.5,546.5 L 600.5,542.3 C 602.3,543.5 603.4,545.5 603.6,548 L 604.2,576.5 C 603.2,585.5 597.5,592.5 588,595 C 580,596.4 573.2,590.5 572.2,583 Z" fill="#d9d9d9" opacity="0.9" filter="url(#blur2)"/>
    <path d="M 573.2,544.9 L 598.6,540.6 C 600.4,541.8 601.3,543.4 601.4,545.2 L 602,576.5 C 601,585 595,591.5 585.8,593.1 C 578,593.6 571.3,588.5 570.1,582 Z" fill="#fff" stroke="#6a6a6a" stroke-width="0.9"/>
    <path d="M 597.3,541.6 L 598.9,576 C 598,583.5 592.8,589 585,590.6 C 578.5,591 573.2,587 571.6,581.5" fill="none" stroke="#8a8a8a" stroke-width="0.7"/>
    <path d="M 595.6,578 C 594,583.5 590,587.2 584.4,588.2 C 579.5,588.6 575.6,586 573.8,582" fill="none" stroke="#9a9a9a" stroke-width="0.6"/>
    <circle cx="582.4" cy="576.9" r="3.9" fill="#f4f4f4" stroke="#6a6a6a" stroke-width="0.9"/>
    <g stroke="#8a8d90" stroke-width="1.6">
      <line x1="574.3" y1="561.8" x2="590.4" y2="575"/>
      <line x1="567.3" y1="570.6" x2="580.2" y2="584.8"/>
    </g>
  </g>
  <!-- small arrow -->
  <polygon points="626.2,550 634.2,550 634.2,560.8 641.9,560.8 629.9,573.2 618,560.8 626.2,560.8" fill="#fff" stroke="#2b2f36" stroke-width="1"/>

  <!-- arrow diag -->
  <polygon points="596.1,686.9 606,689.1 602.5,703.3 612,705.9 593.1,716.5 582.2,698.1 591.6,700.6" fill="#fff" stroke="#2b2f36" stroke-width="1.1"/>
</g>
<rect x="375.9" y="452" width="300.9" height="319.2" fill="none" stroke="#5d636b" stroke-width="1.2"/>
<g id="cap4" font-size="20.2" fill="#1e1e1e" stroke="#fff" stroke-width="0.5" opacity="0.999"><text transform="translate(431.8,791.4) scale(1.0482,1)">Attach</text><text transform="translate(496.4,791.4) scale(0.9981,1)">Art</text><text transform="translate(526.44,791.4) scale(1.0413,1)">to</text><text transform="translate(545.56,791.4) scale(1.0506,1)">Hanger</text></g>

<defs>
  <linearGradient id="gPlateL4" gradientUnits="userSpaceOnUse" x1="537" y1="525" x2="558" y2="522">
    <stop offset="0" stop-color="#dbb45c"/><stop offset="1" stop-color="#e4c372"/>
  </linearGradient>
  <linearGradient id="gMid4" gradientUnits="userSpaceOnUse" x1="571" y1="525" x2="606" y2="520">
    <stop offset="0" stop-color="#d9b359"/><stop offset="0.55" stop-color="#e8cc88"/><stop offset="1" stop-color="#f5ead0"/>
  </linearGradient>
  <linearGradient id="gPlateR4" gradientUnits="userSpaceOnUse" x1="614" y1="510" x2="638" y2="506">
    <stop offset="0" stop-color="#f4e8c6"/><stop offset="1" stop-color="#e1bf6c"/>
  </linearGradient>
</defs>
</svg>
</body></html>
